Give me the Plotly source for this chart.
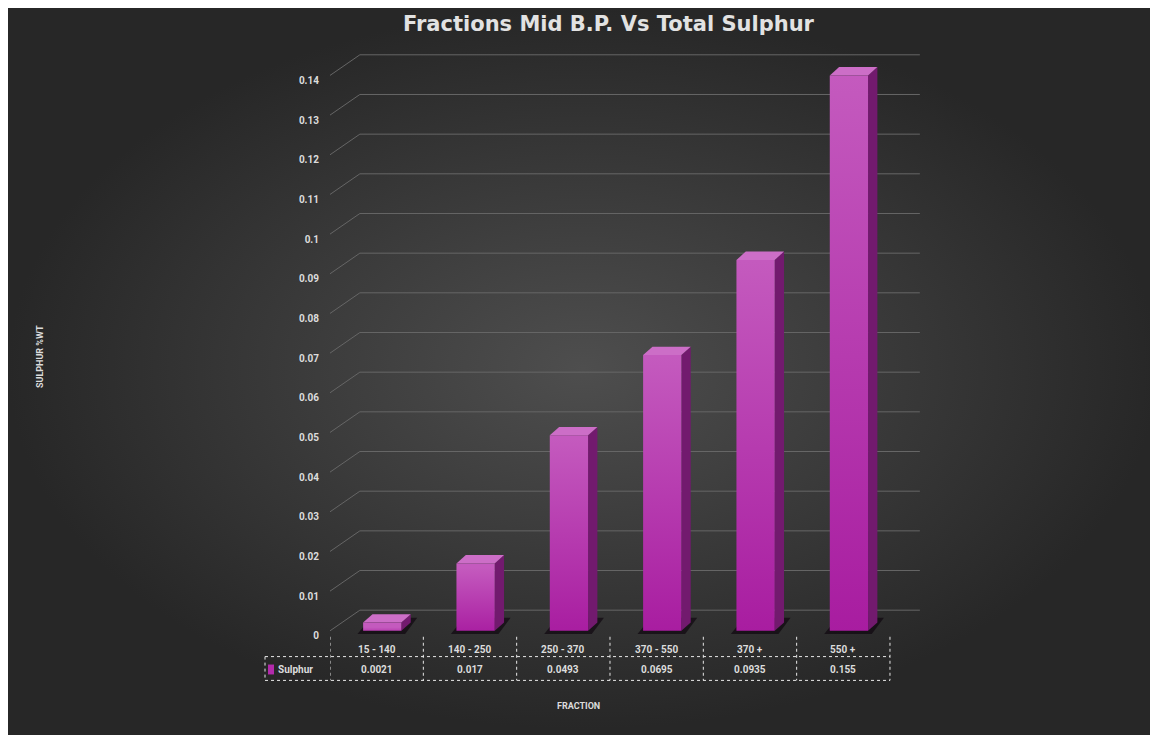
import plotly.graph_objects as go

# data
categories = ['15 - 140', '140 - 250', '250 - 370', '370 - 550', '370 +', '550 +']
sulphur = [0.0021, 0.017, 0.0493, 0.0695, 0.0935, 0.155]
table_values = ['0.0021', '0.017', '0.0493', '0.0695', '0.0935', '0.155']
y_ticks = [0, 0.01, 0.02, 0.03, 0.04, 0.05, 0.06, 0.07, 0.08, 0.09, 0.1, 0.11, 0.12, 0.13, 0.14]
y_ticktext = ['0', '0.01', '0.02', '0.03', '0.04', '0.05', '0.06', '0.07', '0.08', '0.09',
              '0.1', '0.11', '0.12', '0.13', '0.14']
y_max = 0.14

# the page puts the figure 8px in from the top-left corner
OFF = 8
W, H = 1158 - OFF, 735 - OFF


def px(x):
    return (x - OFF) / W


def py(y):
    return 1 - (y - OFF) / H


# front plane: x unit = 93.33 px, y unit = 4000 px (screen pixels)
X_RANGE = [-0.5, 5.9]
Y_RANGE = [-0.0012, 0.1475]
x_dom = [px(330), px(330 + (X_RANGE[1] - X_RANGE[0]) * 93.33)]
y_dom = [py(636 - Y_RANGE[0] * 4000), py(636 - Y_RANGE[1] * 4000)]

# depth offsets (wall and bars)
gdx, gdy = 0.32, 0.0052
bdx, bdy = 0.1, 0.0021
bar_w, bar_shift = 0.41, 0.06

TXT = '#dcdcdc'
FONT = 'Roboto'

fig = go.Figure()

# background with radial shading
fig.add_trace(go.Scatter(
    x=[0, W, W, 0, 0], y=[0, 0, H, H, 0], mode='lines', fill='toself',
    line=dict(width=0), fillgradient=dict(type='radial', colorscale=[[0, '#4e4e4e'], [1, '#272727']]),
    hoverinfo='skip', showlegend=False, xaxis='x', yaxis='y'))

# back wall gridlines
gx, gy = [], []
for v in y_ticks:
    gx += [X_RANGE[0], X_RANGE[0] + gdx, 5.5 + gdx, None]
    gy += [v, v + gdy, v + gdy, None]
fig.add_trace(go.Scatter(x=gx, y=gy, mode='lines', line=dict(color='#666666', width=1),
                         hoverinfo='skip', showlegend=False, xaxis='x2', yaxis='y2'))

# bars drawn as faces
for i, val in enumerate(sulphur):
    v = min(val, y_max)
    x0 = i + bar_shift - bar_w / 2
    x1 = i + bar_shift + bar_w / 2
    # floor shadow
    fig.add_trace(go.Scatter(
        x=[x0 - 0.06, x1 + 0.04, x1 + bdx + 0.07, x0 + bdx - 0.02, x0 - 0.06],
        y=[-0.0008, -0.0008, bdy + 0.0012, bdy + 0.0012, -0.0008],
        mode='lines', fill='toself', fillcolor='rgba(10,0,10,0.6)', line=dict(width=0),
        hoverinfo='skip', showlegend=False, xaxis='x2', yaxis='y2'))
    # side face
    fig.add_trace(go.Scatter(
        x=[x1, x1 + bdx, x1 + bdx, x1, x1], y=[0, bdy, v + bdy, v, 0],
        mode='lines', fill='toself', fillcolor='#721a6e', line=dict(width=0),
        hoverinfo='skip', showlegend=False, xaxis='x2', yaxis='y2'))
    # top face
    fig.add_trace(go.Scatter(
        x=[x0, x1, x1 + bdx, x0 + bdx, x0], y=[v, v, v + bdy, v + bdy, v],
        mode='lines', fill='toself', fillcolor='#cc6ec7', line=dict(width=0),
        hoverinfo='skip', showlegend=False, xaxis='x2', yaxis='y2'))
    # front face
    fig.add_trace(go.Scatter(
        x=[x0, x1, x1, x0, x0], y=[0, 0, v, v, 0],
        mode='lines', fill='toself', line=dict(width=0),
        fillgradient=dict(type='vertical', start=0, stop=v,
                          colorscale=[[0, '#a81ca0'], [1, '#c45abe']]),
        name='Sulphur', hovertext=f'{categories[i]}: {val}', hoverinfo='text',
        showlegend=False, xaxis='x2', yaxis='y2'))

# data table
shapes = []
dot = dict(color='#e8e8e8', width=1, dash='dot')
for k in range(7):
    shapes.append(dict(type='line', xref='x2', yref='paper', x0=k - 0.5, x1=k - 0.5,
                       y0=py(642), y1=py(686), line=dot))
for yy in (662, 686):
    shapes.append(dict(type='line', xref='paper', yref='paper', x0=px(265), x1=px(890),
                       y0=py(yy), y1=py(yy), line=dot))
shapes.append(dict(type='line', xref='paper', yref='paper', x0=px(265), x1=px(265),
                   y0=py(662), y1=py(686), line=dot))
shapes.append(dict(type='rect', xref='paper', yref='paper', x0=px(268), x1=px(274),
                   y0=py(680), y1=py(670), fillcolor='#b22aab', line=dict(width=0)))

annotations = []
for i, c in enumerate(categories):
    annotations.append(dict(x=i, y=py(655), xref='x2', yref='paper', text=c, showarrow=False,
                            yanchor='middle',
                            font=dict(size=10, color=TXT, family=FONT, weight='bold')))
    annotations.append(dict(x=i, y=py(675), xref='x2', yref='paper', text=table_values[i],
                            showarrow=False, yanchor='middle',
                            font=dict(size=10, color=TXT, family=FONT, weight='bold')))
annotations.append(dict(x=px(276), y=py(675), xref='paper', yref='paper', text='Sulphur',
                        xanchor='left', yanchor='middle', showarrow=False,
                        font=dict(size=10, color=TXT, family=FONT, weight='bold')))
annotations.append(dict(x=px(578), y=py(712), xref='paper', yref='paper', text='FRACTION',
                        yanchor='middle', showarrow=False,
                        font=dict(size=9, color=TXT, family=FONT, weight='bold')))
annotations.append(dict(x=px(40), y=py(360), xref='paper', yref='paper', text='SULPHUR %WT',
                        textangle=-90, xanchor='center', yanchor='middle', showarrow=False,
                        font=dict(size=9, color=TXT, family=FONT, weight='bold')))
annotations.append(dict(x=px(609), y=py(24), xref='paper', yref='paper',
                        text='Fractions Mid B.P. Vs Total Sulphur', showarrow=False,
                        yanchor='middle',
                        font=dict(size=21, color='#e2e2e2', family='DejaVu Sans', weight='bold')))

fig.update_layout(
    width=W, height=H, autosize=False,
    margin=dict(l=0, r=0, t=0, b=0),
    paper_bgcolor='#272727', plot_bgcolor='rgba(0,0,0,0)',
    xaxis=dict(domain=[0, 1], range=[0, W], visible=False, fixedrange=True),
    yaxis=dict(domain=[0, 1], range=[H, 0], visible=False, fixedrange=True),
    xaxis2=dict(domain=x_dom, range=X_RANGE, anchor='y2', showgrid=False, zeroline=False,
                showticklabels=False, showline=False),
    yaxis2=dict(domain=y_dom, range=Y_RANGE, anchor='x2', showgrid=False, zeroline=False,
                showline=False, tickvals=y_ticks, ticktext=y_ticktext, ticklabelshift=5,
                ticklabelstandoff=10,
                tickfont=dict(size=10, color=TXT, family=FONT, weight='bold')),
    shapes=shapes,
    annotations=annotations,
    hovermode='closest',
)

fig.write_html("out.html")
